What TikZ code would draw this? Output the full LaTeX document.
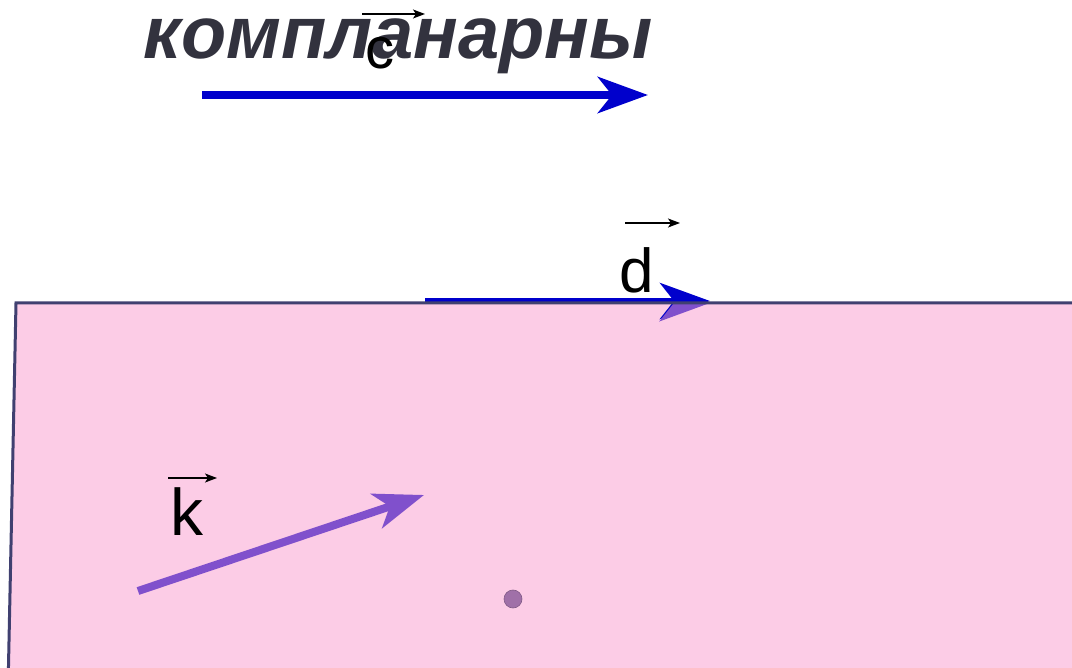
\documentclass[tikz,border=0pt]{standalone}
\usepackage{fontspec}
\setmainfont{Liberation Sans}
\usepackage{tikz}
\usetikzlibrary{
  arrows.meta,
  positioning
}
\definecolor{vecblue}{RGB}{0,0,204}
\definecolor{vecpurple}{RGB}{128,80,204}
\definecolor{planepink}{RGB}{252,204,230}
\definecolor{planeedge}{RGB}{64,64,112}
\definecolor{titlegray}{RGB}{50,50,62}
\definecolor{dotpurple}{RGB}{160,112,168}
\tikzset{
  planeFill/.style={
    fill=planepink
  },
  planeLine/.style={
    draw=planeedge,
    line width=1.5pt
  },
  vecBlue/.style={
    -{Stealth[length=25pt,width=18pt,inset=7pt]},
    line width=4pt,
    draw=vecblue
  },
  vecPurple/.style={
    -{Stealth[length=25pt,width=18pt,inset=7pt]},
    line width=4pt,
    draw=vecpurple
  },
  vecMark/.style={
    -{Stealth[length=6pt,width=4.5pt,inset=1.5pt]},
    line width=0.7pt,
    draw=black
  },
  vecLetter/.style={
    anchor=base,
    inner sep=0pt,
    text=black
  },
  titleText/.style={
    anchor=base,
    inner sep=0pt,
    text=titlegray,
    font=\fontsize{37}{40}\selectfont\bfseries\itshape
  }
}

\begin{document}
\begin{tikzpicture}[x=0.5pt, y=-0.5pt]
  \clip (0,0) rectangle (1072,668);

  % plane
  \fill[planeFill] (1090,303) -- (16,303) -- (8,690) -- (1090,690) -- cycle;

  % vector c and heading
  \coordinate (cStart) at (202,95);
  \coordinate (cEnd) at (648,95);
  \draw[vecBlue] (cStart) -- (cEnd);
  \node[titleText] (heading) at (398,59) {компланарны};
  \node[vecLetter, font=\fontsize{29}{32}\selectfont] (cLetter) at (380,69) {c};
  \coordinate (cBarL) at (362,14);
  \coordinate (cBarR) at (425,14);
  \draw[vecMark] (cBarL) -- (cBarR);

  % vector d on the edge of the plane
  \coordinate (dStart) at (425,301);
  \coordinate (dEnd) at (710,301);
  \draw[vecBlue, line width=3pt] (dStart) -- (dEnd);
  \begin{scope}
    \clip (600,303) rectangle (760,340);
    \coordinate (dpStart) at (690,303);
    \coordinate (dpEnd) at (710,303);
    \draw[vecPurple] (dpStart) -- (dpEnd);
  \end{scope}
  \coordinate (edgeR) at (1090,303);
  \coordinate (edgeTL) at (16,303);
  \coordinate (edgeBL) at (8,690);
  \draw[planeLine] (edgeR) -- (edgeTL) -- (edgeBL);
  \node[vecLetter, font=\fontsize{31}{34}\selectfont] (dLetter) at (637,293) {d};
  \coordinate (dBarL) at (625,223);
  \coordinate (dBarR) at (680,223);
  \draw[vecMark] (dBarL) -- (dBarR);

  % vector k in the plane
  \coordinate (kStart) at (138,591);
  \coordinate (kEnd) at (424,495);
  \draw[vecPurple] (kStart) -- (kEnd);
  \node[vecLetter, font=\fontsize{33}{36}\selectfont] (kLetter) at (187,535) {k};
  \coordinate (kBarL) at (168,478);
  \coordinate (kBarR) at (217,478);
  \draw[vecMark] (kBarL) -- (kBarR);

  % point
  \node[circle, fill=dotpurple, draw=dotpurple!80!black, line width=0.3pt,
    minimum size=9pt, inner sep=0pt] (point) at (513,599) {};
\end{tikzpicture}
\end{document}
